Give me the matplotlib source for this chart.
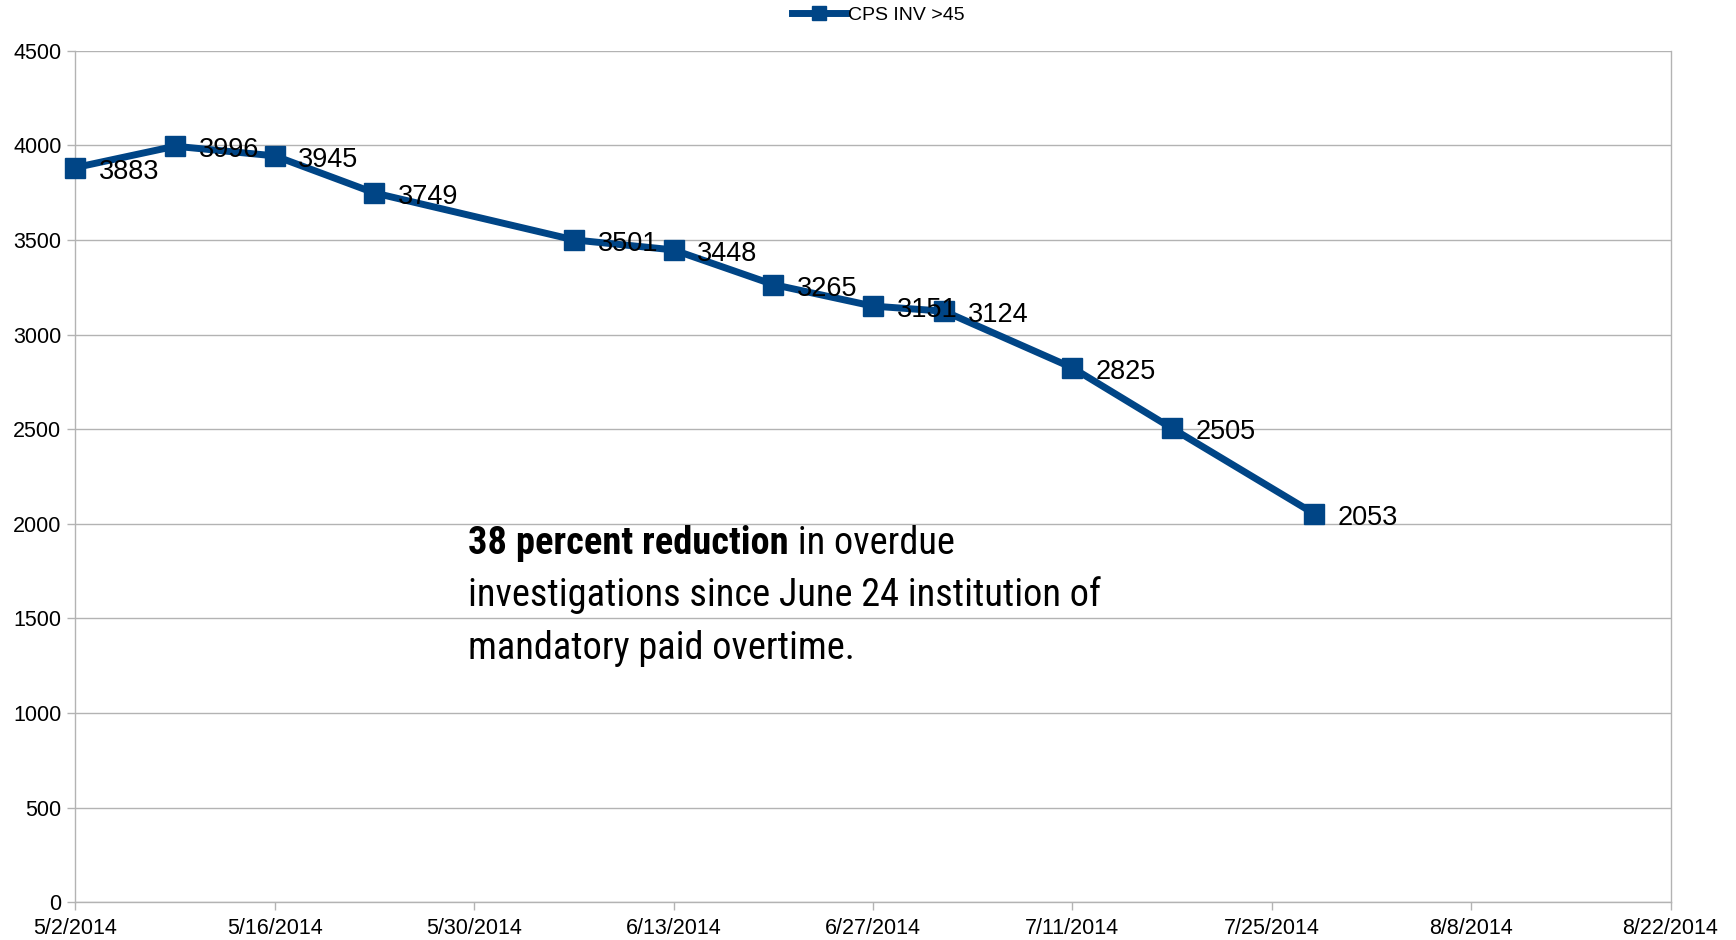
import matplotlib
matplotlib.use("Agg")
import matplotlib.pyplot as plt
import matplotlib.dates as mdates
from matplotlib.ticker import FuncFormatter
from matplotlib.patches import Rectangle
from matplotlib import font_manager
import datetime as dt

plt.rcParams['font.family'] = ['Liberation Sans', 'DejaVu Sans']

# ---- data ----
dates = ["2014-05-02", "2014-05-09", "2014-05-16", "2014-05-23", "2014-06-06",
         "2014-06-13", "2014-06-20", "2014-06-27", "2014-07-02", "2014-07-11",
         "2014-07-18", "2014-07-28"]
values = [3883, 3996, 3945, 3749, 3501, 3448, 3265, 3151, 3124, 2825, 2505, 2053]
series_name = "CPS INV >45"
x_start = "2014-05-02"
x_end = "2014-08-22"
y_ticks = [0, 500, 1000, 1500, 2000, 2500, 3000, 3500, 4000, 4500]
note_bold = "38 percent reduction"
note_rest1 = " in overdue"
note_lines = ["investigations since June 24 institution of", "mandatory paid overtime."]

BLUE = "#004586"
GRID = "#b3b3b3"

x = [dt.datetime.strptime(d, "%Y-%m-%d") for d in dates]
xs = dt.datetime.strptime(x_start, "%Y-%m-%d")
xe = dt.datetime.strptime(x_end, "%Y-%m-%d")

fig = plt.figure(figsize=(17.36, 9.40), dpi=100)
ax = fig.add_axes([0.0434, 0.0401, 0.9189, 0.9058])

line, = ax.plot(x, values, color=BLUE, lw=5, marker='s', markersize=14,
                markerfacecolor=BLUE, markeredgecolor=BLUE, label=series_name,
                solid_joinstyle='miter', zorder=3, clip_on=False)

for xi, v in zip(x, values):
    ax.annotate(str(v), xy=(mdates.date2num(xi), v), xytext=(17, -3),
                textcoords='offset points', ha='left', va='center',
                fontsize=19.5, color='black', zorder=4)

ax.set_xlim(xs, xe)
ax.set_ylim(y_ticks[0], y_ticks[-1])
ax.set_yticks(y_ticks)
ax.set_xticks([mdates.date2num(xs + dt.timedelta(days=14 * i)) for i in range(9)])
ax.xaxis.set_major_formatter(FuncFormatter(
    lambda v, p: (lambda d: f"{d.month}/{d.day}/{d.year}")(mdates.num2date(v))))

ax.grid(axis='y', color=GRID, lw=1.0, zorder=0)
ax.grid(axis='x', visible=False)
for s in ['left', 'right', 'bottom']:
    ax.spines[s].set_color(GRID)
    ax.spines[s].set_linewidth(1.0)
ax.spines['top'].set_visible(False)
ax.tick_params(axis='both', colors=GRID, labelcolor='black', labelsize=15.5,
               length=6, width=1.0, direction='out')
ax.tick_params(axis='x', pad=5)
ax.tick_params(axis='y', pad=4)

# pick a condensed family if one is installed
avail = {f.name for f in font_manager.fontManager.ttflist}
cands = ['Liberation Sans Narrow', 'Roboto Condensed', 'Open Sans Condensed',
         'DejaVu Sans Condensed', 'Noto Sans Condensed', 'Arial Narrow']
nfam = [c for c in cands if c in avail] + ['Liberation Sans', 'DejaVu Sans']
fs = 27.6

# annotation box
ax.add_patch(Rectangle((0.2346, 0.28), 0.451, 0.175, transform=ax.transAxes,
                       facecolor='white', edgecolor='none', zorder=1.5))
y0 = 0.400
dy = 0.0618
t1 = ax.text(0.2464, y0, note_bold, transform=ax.transAxes, fontsize=fs,
             fontweight='bold', family=nfam, ha='left', va='bottom', zorder=5,
             fontstretch='condensed')
ax.annotate(note_rest1, xy=(1, 0), xycoords=t1, ha='left', va='bottom',
            fontsize=fs, family=nfam, zorder=5, fontstretch='condensed')
ax.text(0.2464, y0 - dy, note_lines[0], transform=ax.transAxes, fontsize=fs,
        family=nfam, ha='left', va='bottom', zorder=5, fontstretch='condensed')
ax.text(0.2464, y0 - 2 * dy, note_lines[1], transform=ax.transAxes, fontsize=fs,
        family=nfam, ha='left', va='bottom', zorder=5, fontstretch='condensed')

leg_handle = plt.Line2D([], [], color=BLUE, lw=5, marker='s', markersize=10,
                        markerfacecolor=BLUE, markeredgecolor=BLUE)
fig.legend([leg_handle], [series_name], loc='center', bbox_to_anchor=(0.506, 0.984),
           frameon=False, fontsize=14, handlelength=2.8, handletextpad=0.1)

fig.savefig("out.png", dpi=100)
